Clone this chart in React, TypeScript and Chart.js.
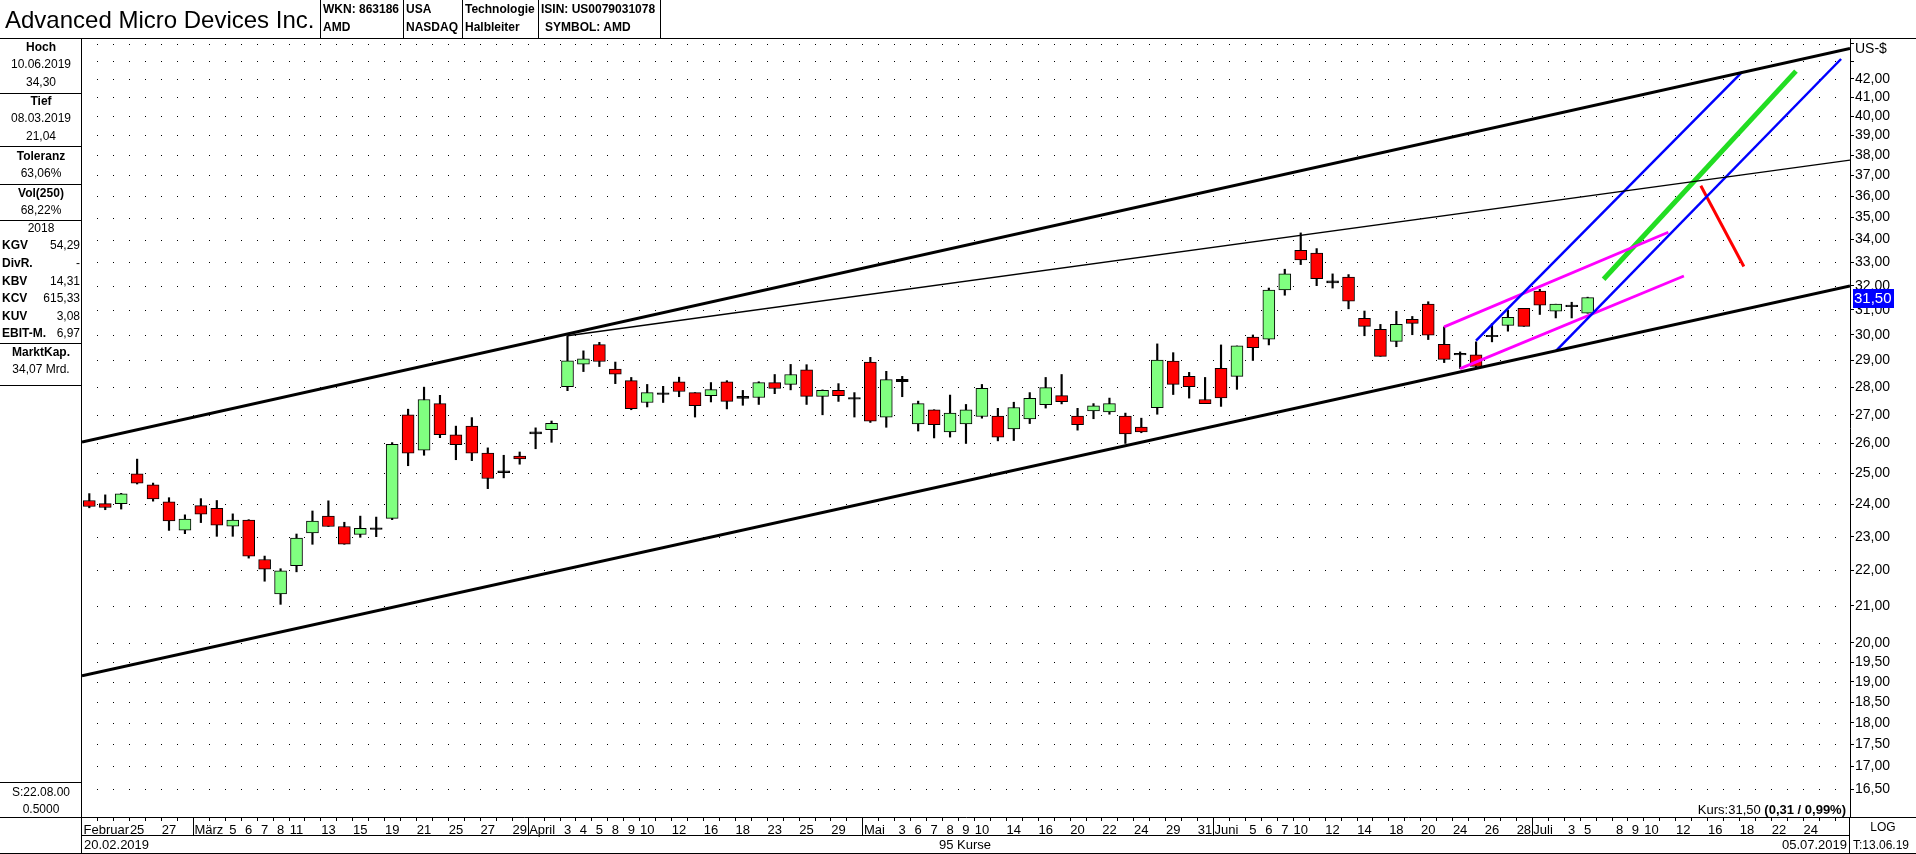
import React, { useEffect, useRef } from 'react';
import { Chart, registerables } from 'chart.js';

Chart.register(...registerables);

// ---------------- data ----------------
// trading days 20.02.2019 .. 05.07.2019 (95 Kurse), index 0..94
const opens = [24.12, 24.02, 24.02, 24.98, 24.62, 24.08, 23.20, 23.96, 23.87, 23.32,
  23.51, 22.32, 21.33, 22.14, 23.11, 23.63, 23.31, 23.07, 23.22, 23.56,
  27.00, 25.77, 27.40, 26.30, 26.60, 25.67, 25.02, 25.57, 26.40, 26.48,
  28.02, 28.86, 29.61, 28.67, 28.24, 27.44, 27.79, 28.20, 27.80, 27.69,
  28.20, 27.59, 27.62, 28.17, 28.10, 28.65, 27.66, 27.88, 27.62, 28.94,
  26.92, 28.29, 26.68, 27.18, 26.40, 26.68, 26.94, 26.95, 26.50, 26.85,
  27.36, 27.69, 26.95, 27.14, 27.10, 26.95, 26.57, 27.25, 28.98, 28.40,
  27.55, 28.70, 28.40, 29.91, 29.82, 31.82, 33.52, 33.40, 32.20, 32.36,
  30.65, 30.21, 29.74, 30.61, 31.23, 29.62, 29.27, 29.22, 29.92, 30.37,
  31.06, 31.77, 30.94, 31.13, 30.86];
const highs = [24.34, 24.30, 24.35, 25.47, 24.68, 24.21, 23.67, 24.18, 24.12, 23.70,
  23.52, 22.42, 22.05, 23.08, 23.79, 24.11, 23.44, 23.63, 23.60, 26.03,
  27.20, 28.00, 27.70, 26.60, 26.90, 25.85, 25.60, 25.71, 26.54, 26.78,
  29.96, 29.37, 29.70, 28.94, 28.36, 28.10, 28.03, 28.37, 27.80, 28.17,
  28.24, 27.88, 28.20, 28.47, 28.85, 28.84, 27.90, 28.13, 27.80, 29.12,
  28.59, 28.40, 27.49, 27.18, 27.71, 27.37, 28.10, 27.23, 27.45, 27.80,
  28.36, 28.47, 27.23, 27.40, 27.60, 27.06, 26.88, 29.64, 29.30, 28.55,
  28.36, 29.60, 29.56, 29.99, 31.90, 32.70, 34.30, 33.60, 32.50, 32.47,
  30.95, 30.41, 30.94, 30.73, 31.33, 30.31, 29.33, 29.72, 30.44, 30.99,
  31.06, 31.85, 31.23, 31.31, 31.52];
const lows = [23.89, 23.83, 23.85, 24.65, 24.10, 23.19, 23.09, 23.43, 23.01, 23.01,
  22.36, 21.69, 21.04, 21.96, 22.77, 23.31, 22.77, 22.98, 23.00, 23.52,
  25.25, 25.60, 26.20, 25.45, 25.42, 24.50, 24.85, 25.30, 25.82, 26.04,
  27.87, 28.58, 28.77, 28.13, 27.18, 27.28, 27.44, 27.65, 26.92, 27.46,
  27.21, 27.34, 27.37, 27.76, 27.90, 27.37, 27.00, 27.48, 26.92, 26.73,
  26.56, 27.65, 26.43, 26.19, 26.22, 26.00, 26.88, 26.09, 26.10, 26.69,
  27.24, 27.39, 26.46, 26.86, 27.02, 26.00, 26.37, 27.02, 27.73, 27.60,
  27.40, 27.30, 27.92, 29.00, 29.60, 31.60, 32.90, 32.00, 31.90, 31.04,
  29.96, 29.16, 29.53, 30.00, 29.81, 28.92, 28.70, 28.70, 29.72, 30.14,
  30.33, 30.81, 30.67, 30.67, 30.86];
const closes = [23.93, 23.90, 24.33, 24.68, 24.17, 23.48, 23.54, 23.69, 23.35, 23.51,
  22.42, 22.04, 21.99, 22.96, 23.48, 23.31, 22.77, 23.25, 23.27, 25.97,
  25.67, 27.55, 26.30, 25.96, 25.67, 24.83, 25.08, 25.48, 26.33, 26.70,
  28.99, 29.06, 28.96, 28.48, 27.22, 27.80, 27.73, 27.84, 27.33, 27.91,
  27.48, 27.66, 28.17, 27.95, 28.47, 27.66, 27.88, 27.69, 27.56, 26.77,
  28.28, 28.20, 27.40, 26.65, 27.06, 27.18, 27.96, 26.22, 27.26, 27.59,
  27.98, 27.47, 26.65, 27.32, 27.40, 26.33, 26.40, 29.02, 28.10, 28.02,
  27.40, 27.61, 29.56, 29.49, 31.82, 32.50, 33.10, 32.30, 32.12, 31.35,
  30.33, 29.16, 30.41, 30.45, 29.98, 29.04, 29.21, 28.77, 29.98, 30.69,
  30.33, 31.19, 31.23, 31.19, 31.50];

// date axis labels
const dayLabelIdx = [3, 5, 9, 10, 11, 12, 13, 15, 17, 19, 21, 23, 25, 27, 30, 31, 32, 33, 34, 35, 37, 39, 41, 43, 45, 47,
  51, 52, 53, 54, 55, 56, 58, 60, 62, 64, 66, 68, 70, 73, 74, 75, 76, 78, 80, 82, 84, 86, 88, 90,
  93, 94, 96, 97, 98, 100, 102, 104, 106, 108];
const dayLabelText = ['25', '27', '5', '6', '7', '8', '11', '13', '15', '19', '21', '25', '27', '29',
  '3', '4', '5', '8', '9', '10', '12', '16', '18', '23', '25', '29',
  '3', '6', '7', '8', '9', '10', '14', '16', '20', '22', '24', '29', '31',
  '5', '6', '7', '10', '12', '14', '18', '20', '24', '26', '28',
  '3', '5', '8', '9', '10', '12', '16', '18', '22', '24'];
const monthNames = ['Februar', 'März', 'April', 'Mai', 'Juni', 'Juli'];
const monthStart = [-0.458, 6.5, 27.5, 48.5, 70.5, 90.5];

// price axis ticks
const priceTicks = [16.5, 17, 17.5, 18, 18.5, 19, 19.5, 20, 21, 22, 23, 24, 25, 26, 27, 28, 29, 30,
  31, 32, 33, 34, 35, 36, 37, 38, 39, 40, 41, 42, 43, 44];
const lastPrice = 31.5;

// drawn trend lines: [index, price] pairs
const upperChannel = [[-0.458, 26.05], [110.46, 43.72]];
const lowerChannel = [[-0.458, 19.15], [110.46, 31.99]];
const resistanceLine = [[30, 29.96], [110.46, 37.75]];
const blueUpper = [[87, 29.77], [103.7, 42.39]];
const blueLower = [[92, 29.36], [109.9, 43.12]];
const pinkUpper = [[85, 30.31], [99.06, 34.33]];
const pinkLower = [[86, 28.69], [100.04, 32.41]];
const greenTrend = [[95, 32.27], [107.07, 42.44]];
const redTrend = [[101.1, 36.5], [103.8, 32.82]];

// ---------------- layout constants ----------------
const W = 1916;
const H = 854;
const AREA_LEFT = 82;
const AREA_TOP = 39;
const AXIS_W = 66;
const XAXIS_H = 37;
const X_MIN = -0.458;
const X_MAX = 110.46;
const PX_PER_DAY = (W - AXIS_W - AREA_LEFT) / (X_MAX - X_MIN);
const Y_MAX = 42 * Math.exp(40 / 760);
const Y_MIN = 42 * Math.exp(-738 / 760);

const SANS = '"Liberation Sans", Arial, sans-serif';

let measureCtx: CanvasRenderingContext2D | null = null;
function textWidth(t: string, font: string) {
  if (!measureCtx) measureCtx = document.createElement('canvas').getContext('2d');
  measureCtx!.font = font;
  return measureCtx!.measureText(t).width;
}

const fmt = (v: number) => v.toFixed(2).replace('.', ',');

function lineDs(pts: number[][], color: string, width: number) {
  return {
    type: 'line' as const,
    data: pts.map((p) => ({ x: p[0], y: p[1] })),
    borderColor: color,
    borderWidth: width,
    pointRadius: 0,
    fill: false,
    tension: 0,
    order: 0,
    borderCapStyle: 'butt' as const,
  };
}

const decorPlugin = {
  id: 'decor',
  beforeDatasetsDraw(chart: any) {
    const { ctx, chartArea, scales } = chart;
    const x = scales.x;
    const y = scales.y;
    ctx.save();
    ctx.fillStyle = '#000';
    for (const v of priceTicks) {
      const py = Math.round(y.getPixelForValue(v));
      if (py < chartArea.top || py > chartArea.bottom) continue;
      for (let i = 0; i < 111; i++) {
        const px = Math.round(x.getPixelForValue(i + 0.5));
        if (px >= chartArea.right - 1) continue;
        ctx.fillRect(px, py, 1, 1);
      }
    }
    ctx.restore();
  },
  afterDraw(chart: any) {
    const { ctx, chartArea, scales } = chart;
    const x = scales.x;
    const y = scales.y;
    ctx.save();
    ctx.fillStyle = '#000';
    for (let i = 0; i < 111; i++) {
      const px = Math.round(x.getPixelForValue(i + 0.5));
      if (px >= chartArea.right - 1) continue;
      ctx.fillRect(px, chartArea.bottom + 1, 1, 3);
    }
    for (let m = 1; m < monthStart.length; m++) {
      const px = Math.round(x.getPixelForValue(monthStart[m]));
      ctx.fillRect(px, chartArea.bottom, 1, 18);
    }
    const py = y.getPixelForValue(lastPrice);
    ctx.fillStyle = '#0000FF';
    ctx.fillRect(chartArea.right + 3, Math.round(py - 9), 41, 19);
    ctx.fillStyle = '#FFFFFF';
    ctx.font = '15px ' + SANS;
    ctx.textBaseline = 'middle';
    ctx.textAlign = 'left';
    ctx.fillText(fmt(lastPrice), chartArea.right + 4, py + 1);
    ctx.restore();
  },
};

function ChartCanvas() {
  const ref = useRef<HTMLCanvasElement | null>(null);
  useEffect(() => {
    if (!ref.current) return;
    Chart.defaults.color = '#000';
    Chart.defaults.font.family = SANS;

    const bodyColors = opens.map((o, i) => {
      const c = closes[i];
      if (Math.abs(c - o) / o < 0.0035) return '#000000';
      return c > o ? '#80FF80' : '#FF0000';
    });

    const xTickFont = '13px ' + SANS;
    const monthTicks = monthNames.map((n, i) => ({
      value: monthStart[i] + (textWidth(n, xTickFont) / 2 + 1.5) / PX_PER_DAY,
      txt: n,
    }));
    const dayTicks = dayLabelIdx.map((v, i) => ({ value: v, txt: dayLabelText[i] }));
    const xTicks = [...monthTicks, ...dayTicks].sort((a, b) => a.value - b.value);

    const chart = new Chart(ref.current, {
      type: 'bar',
      data: {
        datasets: [
          lineDs(upperChannel, '#000000', 3),
          lineDs(lowerChannel, '#000000', 3),
          lineDs(resistanceLine, '#000000', 1.3),
          lineDs(blueUpper, '#0000FF', 2.5),
          lineDs(blueLower, '#0000FF', 2.5),
          lineDs(pinkUpper, '#FF00FF', 2.8),
          lineDs(pinkLower, '#FF00FF', 2.8),
          lineDs(greenTrend, '#22DD22', 5),
          lineDs(redTrend, '#FF0000', 3),
          {
            type: 'bar',
            data: opens.map((o, i) => ({ x: i, y: [o, closes[i]] })),
            backgroundColor: bodyColors,
            borderColor: '#000000',
            borderWidth: 1,
            borderSkipped: false,
            barThickness: 12,
            grouped: false,
            order: 1,
          },
          {
            type: 'bar',
            data: lows.map((l, i) => ({ x: i, y: [l, highs[i]] })),
            backgroundColor: '#000000',
            borderWidth: 0,
            barThickness: 1.5,
            grouped: false,
            order: 2,
          },
        ] as any,
      },
      options: {
        animation: false,
        responsive: false,
        devicePixelRatio: 1,
        events: [],
        layout: { padding: { left: AREA_LEFT, top: AREA_TOP, right: 0, bottom: 0 }, autoPadding: false } as any,
        plugins: { legend: { display: false }, tooltip: { enabled: false }, title: { display: false } },
        scales: {
          x: {
            type: 'linear',
            position: 'bottom',
            min: X_MIN,
            max: X_MAX,
            offset: false,
            grid: { display: false, drawTicks: false, offset: false },
            border: { display: true, color: '#000', width: 1 },
            ticks: {
              autoSkip: false,
              maxRotation: 0,
              minRotation: 0,
              padding: 6,
              color: '#000',
              font: { family: SANS, size: 13 },
              callback: (_v: any, i: number) => xTicks[i] ? xTicks[i].txt : '',
            },
            afterBuildTicks: (s: any) => {
              s.ticks = xTicks.map((t) => ({ value: t.value }));
            },
            afterFit: (s: any) => {
              s.height = XAXIS_H;
              s.paddingLeft = 0;
              s.paddingRight = 0;
            },
          },
          y: {
            type: 'logarithmic',
            position: 'right',
            min: Y_MIN,
            max: Y_MAX,
            grid: { display: true, drawOnChartArea: false, drawTicks: true, tickLength: 4, color: '#000', tickColor: '#000' },
            border: { display: true, color: '#000', width: 1 },
            ticks: {
              autoSkip: false,
              padding: 1,
              color: '#000',
              font: { family: SANS, size: 14 },
              callback: (v: any) => (v >= 43 ? '' : fmt(Number(v))),
            },
            afterBuildTicks: (s: any) => {
              s.ticks = priceTicks.map((v) => ({ value: v }));
            },
            afterFit: (s: any) => {
              s.width = AXIS_W;
              s.paddingTop = 0;
              s.paddingBottom = 0;
            },
          },
        },
      } as any,
      plugins: [decorPlugin],
    });
    return () => chart.destroy();
  }, []);
  return <canvas ref={ref} width={W} height={H} style={{ position: 'absolute', left: 0, top: 0, width: W, height: H }} />;
}

type TxtProps = {
  x: number; y: number; w?: number; align?: 'left' | 'center' | 'right';
  size?: number; bold?: boolean; children: React.ReactNode;
};
function Txt({ x, y, w, align = 'left', size = 12, bold = false, children }: TxtProps) {
  const lh = Math.round(size * 1.3);
  const style: React.CSSProperties = {
    position: 'absolute',
    top: y - lh / 2,
    lineHeight: lh + 'px',
    height: lh,
    fontSize: size,
    fontWeight: bold ? 'bold' : 'normal',
    fontFamily: SANS,
    whiteSpace: 'nowrap',
    color: '#000',
  };
  if (align === 'center') { style.left = x; style.width = w; style.textAlign = 'center'; }
  else if (align === 'right') { style.right = W - x; style.textAlign = 'right'; }
  else style.left = x;
  return <div style={style}>{children}</div>;
}
const HL = ({ x1, x2, y }: { x1: number; x2: number; y: number }) => (
  <div style={{ position: 'absolute', left: x1, top: y, width: x2 - x1, height: 1, background: '#000' }} />
);
const VL = ({ x, y1, y2 }: { x: number; y1: number; y2: number }) => (
  <div style={{ position: 'absolute', left: x, top: y1, width: 1, height: y2 - y1, background: '#000' }} />
);

export default function App() {
  const C = (y: number, t: React.ReactNode, bold = false) => (
    <Txt x={0} y={y} w={82} align="center" bold={bold}>{t}</Txt>
  );
  const KV = (y: number, k: string, v: string) => (
    <React.Fragment key={k}>
      <Txt x={2} y={y} bold>{k}</Txt>
      <Txt x={80} y={y} align="right">{v}</Txt>
    </React.Fragment>
  );
  return (
    <div style={{ position: 'absolute', left: 0, top: 0, width: W, height: H, background: '#fff', overflow: 'hidden', fontFamily: SANS }}>
      <ChartCanvas />
      {/* header */}
      <Txt x={5} y={19} size={24}>Advanced Micro Devices Inc.</Txt>
      <VL x={320} y1={0} y2={38} />
      <VL x={403} y1={0} y2={38} />
      <VL x={462} y1={0} y2={38} />
      <VL x={538} y1={0} y2={38} />
      <VL x={660} y1={0} y2={38} />
      <Txt x={323} y={9} bold>WKN: 863186</Txt>
      <Txt x={323} y={27} bold>AMD</Txt>
      <Txt x={406} y={9} bold>USA</Txt>
      <Txt x={406} y={27} bold>NASDAQ</Txt>
      <Txt x={465} y={9} bold>Technologie</Txt>
      <Txt x={465} y={27} bold>Halbleiter</Txt>
      <Txt x={541} y={9} bold>ISIN: US0079031078</Txt>
      <Txt x={545} y={27} bold>SYMBOL: AMD</Txt>
      <HL x1={0} x2={W} y={38} />
      {/* left panel */}
      <VL x={81} y1={38} y2={854} />
      {C(47, 'Hoch', true)}
      {C(64, '10.06.2019')}
      {C(82, '34,30')}
      <HL x1={0} x2={82} y={93} />
      {C(101, 'Tief', true)}
      {C(118, '08.03.2019')}
      {C(136, '21,04')}
      <HL x1={0} x2={82} y={146} />
      {C(156, 'Toleranz', true)}
      {C(173, '63,06%')}
      <HL x1={0} x2={82} y={184} />
      {C(193, 'Vol(250)', true)}
      {C(210, '68,22%')}
      <HL x1={0} x2={82} y={220} />
      {C(228, '2018')}
      {KV(245, 'KGV', '54,29')}
      {KV(263, 'DivR.', '-')}
      {KV(281, 'KBV', '14,31')}
      {KV(298, 'KCV', '615,33')}
      {KV(316, 'KUV', '3,08')}
      {KV(333, 'EBIT-M.', '6,97')}
      <HL x1={0} x2={82} y={343} />
      {C(352, 'MarktKap.', true)}
      {C(369, '34,07 Mrd.')}
      <HL x1={0} x2={82} y={385} />
      <HL x1={0} x2={82} y={782} />
      {C(792, 'S:22.08.00')}
      {C(809, '0.5000')}
      <HL x1={0} x2={82} y={817} />
      <HL x1={1850} x2={W} y={817} />
      {/* right column */}
      <Txt x={1855} y={48} size={14}>US-$</Txt>
      <VL x={1849} y1={817} y2={854} />
      <Txt x={1850} y={827} w={66} align="center">LOG</Txt>
      <Txt x={1853} y={845}>T:13.06.19</Txt>
      {/* bottom rows */}
      <HL x1={82} x2={1850} y={835} />
      <HL x1={0} x2={W} y={853} />
      <Txt x={84} y={844} size={13}>20.02.2019</Txt>
      <Txt x={900} y={844} w={130} align="center" size={13}>95 Kurse</Txt>
      <Txt x={1847} y={844} align="right" size={13}>05.07.2019</Txt>
      <Txt x={1846} y={809} align="right" size={13}>Kurs:31,50 <b>(0,31 / 0,99%)</b></Txt>
    </div>
  );
}
